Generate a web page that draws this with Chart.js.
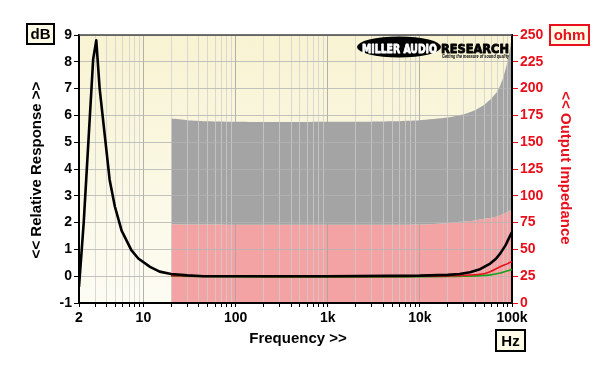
<!DOCTYPE html>
<html><head><meta charset="utf-8">
<script src="https://cdn.jsdelivr.net/npm/chart.js@4/dist/chart.umd.min.js"></script>
<style>html,body{margin:0;padding:0;background:#fff}#wrap{width:600px;height:368px;position:relative}</style>
</head><body><div id="wrap"><canvas id="c" width="600" height="368"></canvas></div>
<script>
// ---- data ----
const respFreq = [2, 2.25, 2.85, 3.08, 3.35, 4.3, 4.9, 5.8, 7.4, 8.8, 11.8, 15, 20, 30, 45, 100, 1000, 10000, 20000, 27000, 35000, 45000, 58000, 67000, 75000, 85000, 95000, 100000];
const respDb   = [-0.4, 2.0, 8.1, 8.8, 7.0, 3.6, 2.6, 1.7, 0.97, 0.66, 0.35, 0.17, 0.08, 0.03, 0.0, 0.0, 0.0, 0.02, 0.05, 0.08, 0.15, 0.26, 0.47, 0.65, 0.86, 1.15, 1.5, 1.65];

const hfFreq  = [20, 100, 1000, 5000, 10000, 20000, 30000, 45000, 58000, 75000, 90000, 95000, 100000];
const redDb   = [0.02, 0.0, -0.01, -0.01, 0.0, 0.01, 0.03, 0.07, 0.17, 0.36, 0.47, 0.52, 0.53];
const greenDb = [0.0, -0.02, -0.03, -0.03, -0.02, -0.01, 0.0, 0.02, 0.05, 0.12, 0.2, 0.23, 0.25];

const zFreq  = [20, 30, 50, 100, 200, 500, 1000, 2000, 5000, 10000, 20000, 30000, 40000, 50000, 60000, 70000, 80000, 90000, 95000, 100000];
const grayOhm = [172, 170.5, 169.5, 169, 168.8, 168.8, 169, 169, 169.5, 170.5, 173, 176, 180, 185, 191, 198, 210, 226, 237, 249];
const pinkOhm = [73.5, 73.3, 73.2, 73, 73, 73, 73, 73, 73, 73.2, 74.5, 76, 77, 78.5, 79.5, 81, 83, 85, 86, 87];

const xDecadeTicks  = [2, 10, 100, 1000, 10000, 100000];
const xDecadeLabels = ['2', '10', '100', '1k', '10k', '100k'];
const xMultipliers  = [1, 2, 3, 4, 5, 6, 7, 8, 9];
const dbTicks  = [-1, 0, 1, 2, 3, 4, 5, 6, 7, 8, 9];
const ohmTicks = [0, 25, 50, 75, 100, 125, 150, 175, 200, 225, 250];

// ---- helpers ----
const pts = (xs, ys) => xs.map((x, i) => ({x, y: ys[i]}));
const xAllTicks = [];
[1, 10, 100, 1000, 10000].forEach(d => xMultipliers.forEach(m => { const v = d * m; if (v >= 2 && v <= 100000) xAllTicks.push(v); }));
xAllTicks.push(100000);
const isDecade = v => [10, 100, 1000, 10000, 100000].includes(v);
const FONT = "'Liberation Sans', Arial, sans-serif";
const RED = '#e8101c';

const decor = {
  id: 'decor',
  afterLayout(chart) {
    const a = chart.chartArea;
    chart.canvas.style.background =
      `linear-gradient(to bottom, #f8f3d2, #fdfcf3) ${a.left}px ${a.top}px / ${a.right - a.left}px ${a.bottom - a.top}px no-repeat, #ffffff`;
  },
  afterDraw(chart) {
    const ctx = chart.ctx, a = chart.chartArea;
    ctx.save();
    // top border
    ctx.strokeStyle = '#444'; ctx.lineWidth = 1.5;
    ctx.beginPath(); ctx.moveTo(a.left, a.top); ctx.lineTo(a.right, a.top); ctx.stroke();

    // axis titles
    ctx.fillStyle = '#000';
    ctx.font = 'bold 15px ' + FONT;
    ctx.textAlign = 'center'; ctx.textBaseline = 'middle';
    ctx.fillText('Frequency >>', 298, 339);
    ctx.save(); ctx.translate(37, 170); ctx.rotate(-Math.PI / 2);
    ctx.fillText('<< Relative Response >>', 0, 0); ctx.restore();
    ctx.save(); ctx.fillStyle = RED; ctx.translate(565, 168); ctx.rotate(Math.PI / 2);
    ctx.fillText('<< Output Impedance', 0, 0); ctx.restore();

    // unit boxes
    const box = (x, y, w, h, txt, col) => {
      ctx.fillStyle = '#fdfbe6'; ctx.fillRect(x, y, w, h);
      ctx.strokeStyle = col; ctx.lineWidth = 2; ctx.strokeRect(x, y, w, h);
      ctx.fillStyle = col; ctx.font = 'bold 15px ' + FONT;
      ctx.textAlign = 'center'; ctx.textBaseline = 'middle';
      ctx.fillText(txt, x + w / 2, y + h / 2 + 1);
    };
    box(27, 24, 27, 20, 'dB', '#000');
    box(550, 25, 39, 20, 'ohm', RED);
    box(496, 330, 29, 21, 'Hz', '#000');

    // logo
    ctx.fillStyle = '#000';
    ctx.beginPath(); ctx.ellipse(399, 47, 42, 10.5, 0, 0, Math.PI * 2); ctx.fill();
    const fitText = (txt, x, base, w, font, col, stroke) => {
      ctx.font = font; ctx.fillStyle = col; ctx.strokeStyle = col; ctx.textAlign = 'left'; ctx.textBaseline = 'alphabetic';
      const mw = ctx.measureText(txt).width;
      ctx.save(); ctx.translate(x, base); ctx.scale(w / mw, 1);
      if (stroke) { ctx.lineWidth = stroke; ctx.lineJoin = 'round'; ctx.strokeText(txt, 0, 0); }
      ctx.fillText(txt, 0, 0); ctx.restore();
    };
    fitText('MILLER AUDIO', 362, 52.5, 75, "bold 13px 'DejaVu Sans', sans-serif", '#fff', 0.9);
    fitText('RESEARCH', 441, 52.5, 68, "bold 13px 'DejaVu Sans', sans-serif", '#000', 0.9);
    fitText('Getting the measure of sound quality', 442, 57.5, 67, 'italic bold 5px ' + FONT, '#000', 0);
    ctx.restore();
  }
};

new Chart(document.getElementById('c'), {
  type: 'line',
  data: {
    datasets: [
      { data: pts(respFreq, respDb), yAxisID: 'y', borderColor: '#000', borderWidth: 2.6, borderJoinStyle: 'round', pointRadius: 0, tension: 0, fill: false },
      { data: pts(hfFreq, redDb), yAxisID: 'y', borderColor: RED, borderWidth: 1.6, pointRadius: 0, tension: 0.2, fill: false },
      { data: pts(hfFreq, greenDb), yAxisID: 'y', borderColor: '#1aa01a', borderWidth: 1.6, pointRadius: 0, tension: 0.2, fill: false },
      { data: pts(zFreq, grayOhm), yAxisID: 'y2', borderWidth: 0, borderColor: 'rgba(0,0,0,0)', backgroundColor: '#a4a4a4', pointRadius: 0, tension: 0.2, fill: '+1' },
      { data: pts(zFreq, pinkOhm), yAxisID: 'y2', borderWidth: 0, borderColor: 'rgba(0,0,0,0)', backgroundColor: '#f4a3a5', pointRadius: 0, tension: 0.2, fill: 'origin' }
    ]
  },
  options: {
    responsive: false,
    animation: false,
    layout: { padding: { top: 35, left: 0, right: 0, bottom: 0 } },
    plugins: { legend: { display: false }, tooltip: { enabled: false }, filler: { drawTime: 'beforeDraw' } },
    scales: {
      x: {
        type: 'logarithmic', min: 2, max: 100000,
        afterFit: s => { s.height = 65; },
        afterBuildTicks: s => { s.ticks = xAllTicks.map(v => ({value: v})); },
        grid: {
          color: c => (c.tick && isDecade(c.tick.value)) ? 'rgba(165,165,165,0.85)' : 'rgba(205,205,205,0.75)',
          lineWidth: 1, tickColor: '#000', tickLength: 4
        },
        border: { color: '#000', width: 2 },
        ticks: {
          autoSkip: false, maxRotation: 0, padding: 3, color: '#000',
          font: { family: FONT, size: 14, weight: 'bold' },
          callback: function (v) { const i = xDecadeTicks.indexOf(v); return i >= 0 ? xDecadeLabels[i] : ''; }
        }
      },
      y: {
        position: 'left', min: -1, max: 9,
        afterFit: s => { s.width = 79; },
        afterBuildTicks: s => { s.ticks = dbTicks.map(v => ({value: v})); },
        grid: { color: 'rgba(180,180,180,0.8)', lineWidth: 1, tickColor: '#000', tickLength: 5 },
        border: { color: '#000', width: 2 },
        ticks: { padding: 2, color: '#000', font: { family: FONT, size: 14, weight: 'bold' } }
      },
      y2: {
        position: 'right', min: 0, max: 250,
        afterFit: s => { s.width = 88; },
        afterBuildTicks: s => { s.ticks = ohmTicks.map(v => ({value: v})); },
        grid: { drawOnChartArea: false, tickColor: RED, tickLength: 6 },
        border: { color: '#000', width: 2 },
        ticks: { padding: 2, color: RED, font: { family: FONT, size: 14, weight: 'bold' } }
      }
    }
  },
  plugins: [decor]
});
</script>
</body></html>
